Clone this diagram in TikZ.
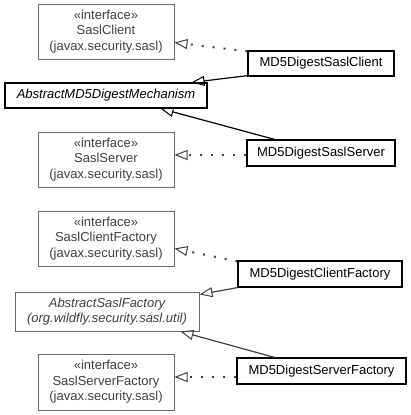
\documentclass[tikz,border=0pt]{standalone}
\usepackage{fontspec}
\setmainfont{Liberation Sans}
\usetikzlibrary{arrows.meta,calc}
\definecolor{bordergray}{HTML}{666666}
\definecolor{textgray}{HTML}{404040}
\begin{document}
\begin{tikzpicture}[x=1pt,y=-1pt,
  font=\fontsize{13}{15.5}\selectfont,
  cls/.style={draw=black, line width=1.3pt, inner sep=0pt, align=center, fill=white},
  iface/.style={draw=bordergray, line width=1pt, inner sep=0pt, align=center, text=textgray, fill=white,
    minimum width=136pt, minimum height=55pt},
  tip/.style={-{Triangle[open, length=13pt, width=10pt, line width=1pt]}},
  realize/.style={tip, draw=textgray, line width=2pt, dash pattern=on 2pt off 9pt},
  inherit/.style={tip, draw=black, line width=1.2pt},
  inheritgray/.style={tip, draw=textgray, line width=1.2pt}]
\useasboundingbox (0,0) rectangle (411,415);
\fill[white] (0,0) rectangle (411,415);

% nodes
\node[iface] (sc) at (106,31.5) {«interface»\\SaslClient\\(javax.security.sasl)};
\node[cls, minimum width=146pt, minimum height=25pt] (md5c) at (321,63.5) {MD5DigestSaslClient};
\node[cls, line width=1.1pt, minimum width=202pt, minimum height=25pt, font=\fontsize{13}{15.5}\selectfont\itshape] (am) at (106,95.5) {AbstractMD5DigestMechanism};
\node[iface] (ss) at (106,159.5) {«interface»\\SaslServer\\(javax.security.sasl)};
\node[cls, minimum width=148pt, minimum height=26pt] (md5s) at (321,153) {MD5DigestSaslServer};

\node[iface] (scf) at (106,238.5) {«interface»\\SaslClientFactory\\(javax.security.sasl)};
\node[cls, minimum width=164pt, minimum height=26pt] (md5cf) at (320,274) {MD5DigestClientFactory};
\node[iface, minimum width=184pt, minimum height=39pt, font=\fontsize{13}{15.5}\selectfont\itshape] (asf) at (107,311.5) {AbstractSaslFactory\\(org.wildfly.security.sasl.util)};
\node[iface, minimum height=56pt] (ssf) at (106,382) {«interface»\\SaslServerFactory\\(javax.security.sasl)};
\node[cls, minimum width=169pt, minimum height=26pt] (md5sf) at (321.5,371) {MD5DigestServerFactory};

% connectors
\draw[realize] ([yshift=-1pt]md5c.north west) -- ([yshift=-39pt]sc.north east);
\draw[inherit] ([yshift=1pt]md5c.south west) -- ([xshift=-16pt]am.north east);
\draw[inherit] ([xshift=28pt]md5s.north west) -- ([xshift=-47pt]am.south east);
\draw[realize] ([yshift=-2pt]md5s.west) -- ([yshift=4.5pt]ss.east);

\draw[realize] ([yshift=-1pt]md5cf.north west) -- ([yshift=-38pt]scf.north east);
\draw[inheritgray] (md5cf.south west) -- ([yshift=-3pt]asf.north east);
\draw[inheritgray] ([xshift=38pt]md5sf.north west) -- ([xshift=-19pt]asf.south east);
\draw[realize] ([yshift=-6pt]md5sf.west) -- ([yshift=5pt]ssf.east);
\end{tikzpicture}
\end{document}
